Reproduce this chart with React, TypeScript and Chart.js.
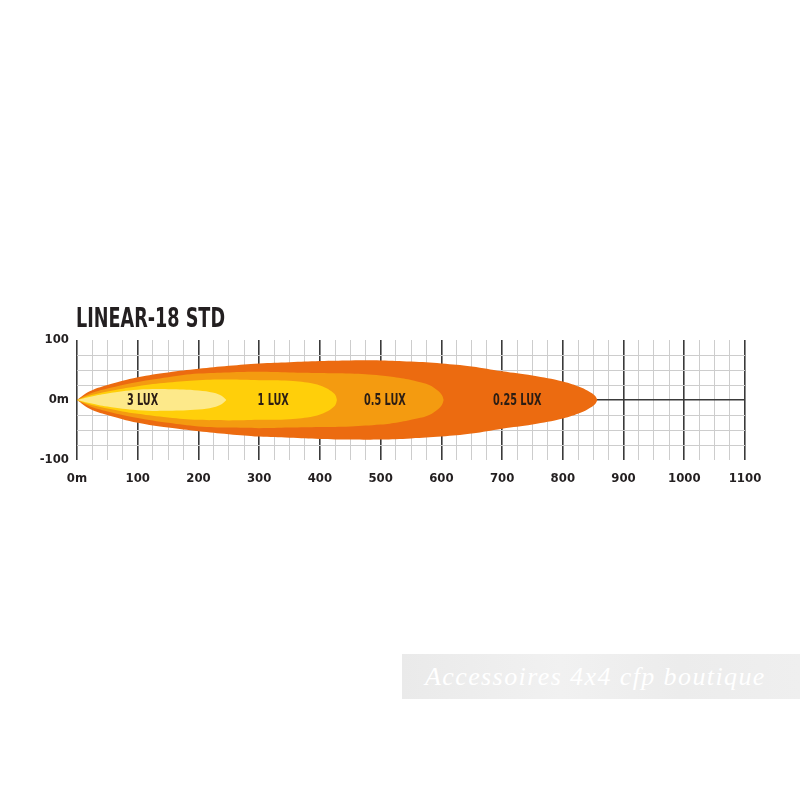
import React, { useEffect, useRef } from 'react';
import { Chart, registerables } from 'chart.js';

Chart.register(...registerables);

// ---- data ----
const chartTitle = 'LINEAR-18 STD';
const beamLabels = ['3 LUX', '1 LUX', '0.5 LUX', '0.25 LUX'];
const beamLabelX = [108, 323, 507, 725];
const beamColors = ['#FDE98A', '#FFCF0A', '#F49B10', '#EC6B10'];

// distance (m) and half-width (m) of each iso-lux contour
const lux3X = [0, 20, 50, 100, 150, 200, 225, 238, 246];
const lux3W = [0, 5, 11, 17, 18, 16, 12, 7, 0];
const lux1X = [0, 20, 50, 100, 150, 200, 250, 300, 350, 390, 410, 422, 426, 428];
const lux1W = [0, 7, 14, 23, 29, 33, 34, 33, 32, 27, 20, 12, 7, 0];
const lux05X = [0, 20, 50, 100, 150, 200, 250, 300, 350, 400, 450, 500, 530, 560, 580, 595, 601, 604];
const lux05W = [0, 10, 19, 30, 38, 44, 46, 47, 46, 45, 44, 41, 37, 31, 25, 15, 8, 0];
const lux025X = [0, 20, 50, 100, 150, 200, 250, 300, 350, 400, 450, 500, 550, 600, 650, 700, 750, 800, 830, 845, 853, 857];
const lux025W = [0, 14, 25, 38, 46, 52, 57, 61, 63, 65, 66, 66, 64, 61, 56, 48, 41, 31, 21, 13, 7, 0];

const xTickValues = [0, 100, 200, 300, 400, 500, 600, 700, 800, 900, 1000, 1100];
const xTickLabels = ['0m', '100', '200', '300', '400', '500', '600', '700', '800', '900', '1000', '1100'];
const yTickValues = [-100, 0, 100];
const yTickLabels = ['-100', '0m', '100'];

const watermark = 'Accessoires 4x4 cfp boutique';

const condensed =
  "'Liberation Sans Narrow', 'DejaVu Sans Condensed', 'Roboto Condensed', 'Arial Narrow', sans-serif";
const DARK = '#3a3a3a';
const LIGHT = '#cdcdcd';

export default function App() {
  const ref = useRef<HTMLCanvasElement>(null);

  useEffect(() => {
    const canvas = ref.current!;
    const beams: [number[], number[]][] = [
      [lux3X, lux3W],
      [lux1X, lux1W],
      [lux05X, lux05W],
      [lux025X, lux025W],
    ];
    const datasets: any[] = [];
    beams.forEach(([xs, ws], i) => {
      const common = {
        backgroundColor: beamColors[i],
        borderColor: 'rgba(0,0,0,0)',
        borderWidth: 0,
        pointRadius: 0,
        tension: 0.4,
        fill: 'origin',
      };
      datasets.push({ ...common, label: beamLabels[i], data: xs.map((x, k) => ({ x, y: ws[k] })) });
      datasets.push({ ...common, label: beamLabels[i] + ' low', data: xs.map((x, k) => ({ x, y: -ws[k] })) });
    });

    const textPlugin = {
      id: 'beamText',
      afterDatasetsDraw(chart: any) {
        const c = chart.ctx;
        const xs = chart.scales.x;
        const ys = chart.scales.y;
        c.save();
        c.fillStyle = '#2b1d14';
        c.font = `bold 15px ${condensed}`;
        c.textAlign = 'center';
        c.textBaseline = 'middle';
        beamLabels.forEach((t, i) => {
          c.save();
          c.translate(xs.getPixelForValue(beamLabelX[i]), ys.getPixelForValue(0) + 1);
          c.scale(0.72, 1);
          c.fillText(t, 0, 0);
          c.restore();
        });
        c.restore();
      },
      afterDraw(chart: any) {
        const c = chart.ctx;
        const area = chart.chartArea;
        c.save();
        c.fillStyle = '#231f20';
        c.font = `bold 26px ${condensed}`;
        c.textAlign = 'left';
        c.textBaseline = 'alphabetic';
        const w = c.measureText(chartTitle).width;
        c.translate(area.left - 1, area.top - 13);
        c.scale(149 / w, 1);
        c.fillText(chartTitle, 0, 0);
        c.restore();
      },
    };

    const chart = new Chart(canvas, {
      type: 'line',
      data: { datasets },
      plugins: [textPlugin],
      options: {
        animation: false,
        responsive: false,
        events: [],
        layout: { padding: { left: 0, top: 340, right: 55, bottom: 308 } },
        plugins: { legend: { display: false }, tooltip: { enabled: false }, title: { display: false } },
        scales: {
          x: {
            type: 'linear',
            min: 0,
            max: 1100,
            border: { display: false },
            grid: {
              drawTicks: false,
              color: (ctx: any) => (ctx.tick && ctx.tick.value % 100 === 0 ? DARK : LIGHT),
              lineWidth: (ctx: any) => (ctx.tick && ctx.tick.value % 100 === 0 ? 1.6 : 1),
            },
            ticks: {
              stepSize: 25,
              autoSkip: false,
              maxRotation: 0,
              padding: 11,
              color: '#231f20',
              font: { family: condensed, size: 13, weight: 'bold' },
              callback: (v: any) => {
                const i = xTickValues.indexOf(Number(v));
                return i >= 0 ? xTickLabels[i] : '';
              },
            },
            afterFit: (s: any) => {
              s.height = 32;
            },
          },
          y: {
            type: 'linear',
            min: -100,
            max: 100,
            border: { display: false },
            grid: {
              drawTicks: false,
              color: (ctx: any) => {
                const v = ctx.tick ? ctx.tick.value : 1;
                if (v === 0) return DARK;
                if (Math.abs(v) === 100) return 'rgba(0,0,0,0)';
                return LIGHT;
              },
              lineWidth: (ctx: any) => (ctx.tick && ctx.tick.value === 0 ? 1.6 : 1),
            },
            ticks: {
              stepSize: 25,
              autoSkip: false,
              padding: 8,
              color: '#231f20',
              font: { family: condensed, size: 13, weight: 'bold' },
              callback: (v: any) => {
                const i = yTickValues.indexOf(Number(v));
                return i >= 0 ? yTickLabels[i] : '';
              },
            },
            afterFit: (s: any) => {
              s.width = 77;
            },
          },
        },
      } as any,
    });
    return () => chart.destroy();
  }, []);

  return (
    <div style={{ position: 'fixed', left: 0, top: 0, width: 800, height: 800, background: '#fff' }}>
      <canvas ref={ref} width={800} height={800} style={{ display: 'block', width: 800, height: 800 }} />
      <div
        style={{
          position: 'absolute',
          left: 402,
          top: 654,
          width: 398,
          height: 45,
          background: 'linear-gradient(90deg, #eaeaea 0%, #f1f1f1 40%, #ececec 70%, #efefef 100%)',
          color: '#ffffff',
          fontFamily: "'Liberation Serif', 'Times New Roman', serif",
          fontStyle: 'italic',
          fontSize: 26,
          letterSpacing: '1.4px',
          lineHeight: '45px',
          paddingLeft: 23,
          boxSizing: 'border-box',
          whiteSpace: 'nowrap',
          overflow: 'hidden',
        }}
      >
        {watermark}
      </div>
    </div>
  );
}
